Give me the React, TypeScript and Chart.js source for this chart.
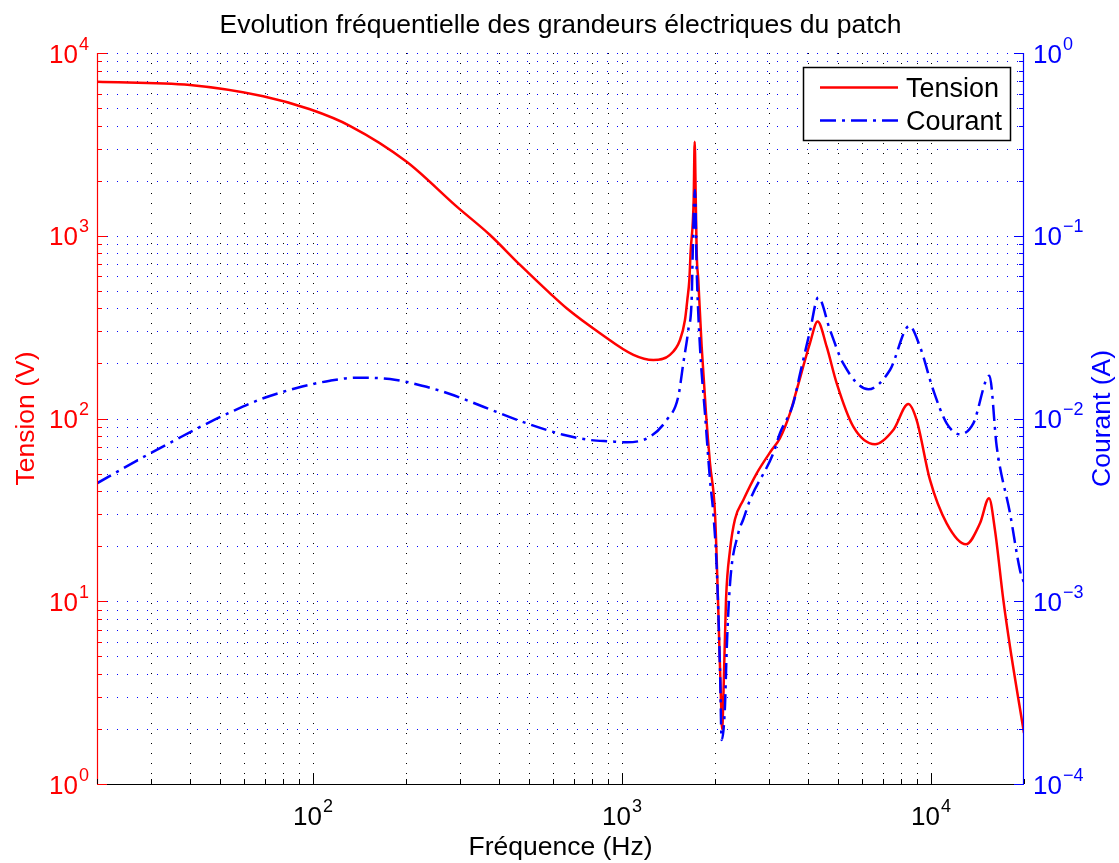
import { useEffect, useRef } from 'react';
import { Chart, registerables } from 'chart.js';

Chart.register(...registerables);

const W = 1119;
const H = 863;
const FONT = '"Liberation Sans", Arial, Helvetica, sans-serif';

// ---- Data ----
const freqTension = [
  20, 40, 69, 97.8, 132, 201, 292, 374, 468, 585, 662, 849,
  1089, 1263, 1430, 1541, 1599, 1627, 1652, 1667, 1706, 1719, 1733, 1745, 1766, 1811, 1870,
  1927, 2000, 2045, 2091, 2110, 2128, 2171, 2237, 2321, 2470, 2729, 3051, 3245, 3498, 3675,
  4057, 4297, 4597, 4951, 5605, 6590, 7551, 8446, 8987, 9926, 11240, 12980, 14410, 15410,
  16110, 17140, 18020, 20000,
];
const tension = [
  6958, 6683, 5800, 4920, 3985, 2541, 1443, 1010, 692, 484, 401, 293,
  223, 209, 223, 269, 346, 445, 573, 805, 1570, 3270, 1570, 805, 573, 247, 107,
  56.9, 30.3, 10.2, 2.9, 2.0, 2.9, 10.2, 19.1, 28.1, 35.8, 50.1, 67.2, 78, 107, 143,
  258, 339, 247, 156, 90.2, 72.3, 86.5, 120, 98, 46.1, 26.7, 20.5, 26.7, 36.6,
  24.5, 10.2, 5.64, 1.9,
];

const freqCourant = [
  20, 27.5, 35.7, 44.2, 55.2, 69, 88.6, 113.5, 138.5, 177.5, 227.5, 277.6, 355.8, 467.7, 645.7,
  787.6, 914.5, 1036, 1232, 1395, 1521, 1579, 1639, 1682, 1694, 1722, 1745, 1788, 1856, 1927,
  1975, 2025, 2075, 2102, 2154, 2182, 2237, 2378, 2470, 2596, 3088, 3245, 3585, 3767, 4057,
  4318, 4712, 5200, 6266, 7367, 8511, 9214, 10170, 11240, 12410, 13710, 15460, 16320, 18020,
  19410, 20000,
];
const courant = [
  4.42e-3, 6.0e-3, 7.6e-3, 9.18e-3, 0.01099, 0.0129, 0.01469, 0.0161, 0.01672, 0.01645, 0.01506,
  0.01362, 0.0116, 9.69e-3, 8.15e-3, 7.63e-3, 7.5e-3, 7.41e-3, 7.95e-3, 9.81e-3, 0.01316, 0.02005,
  0.0305, 0.0464, 0.0802, 0.178, 0.065, 0.0247, 0.01067, 4.61e-3, 3.03e-3, 1.545e-3, 4.38e-4,
  1.74e-4, 2.65e-4, 5.41e-4, 1.25e-3, 2.35e-3, 2.81e-3, 3.58e-3, 6.45e-3, 8.3e-3, 0.0121, 0.0175,
  0.03, 0.046, 0.0305, 0.02, 0.01445, 0.01843, 0.0321, 0.0247, 0.01432, 9.41e-3, 8.2e-3, 9.41e-3,
  0.01714, 7.01e-3, 3.03e-3, 1.48e-3, 1.26e-3,
];

// ---- Ticks / labels ----
const xMajorTicks = [100, 1000, 10000];
const xMajorExp = ['2', '3', '4'];
const yLeftMajorTicks = [1, 10, 100, 1000, 10000];
const yLeftExp = ['0', '1', '2', '3', '4'];
const yRightMajorTicks = [1e-4, 1e-3, 1e-2, 1e-1, 1];
const yRightExp = ['\u22124', '\u22123', '\u22122', '\u22121', '0'];

const X_MIN = 20;
const X_MAX = 20000;

const TITLE = 'Evolution fréquentielle des grandeurs électriques du patch';
const X_TITLE = 'Fréquence (Hz)';
const Y_TITLE = 'Tension (V)';
const Y1_TITLE = 'Courant (A)';
const LEGEND = ['Tension', 'Courant'];

const RED = '#ff0000';
const BLUE = '#0000ff';
const DASH = [16, 6, 3, 6];
const TXT = 26.5;

function decadeTicks(lo: number, hi: number) {
  const out: { v: number; major: boolean }[] = [];
  for (let e = Math.floor(Math.log10(lo)); e <= Math.ceil(Math.log10(hi)); e++) {
    const b = Math.pow(10, e);
    for (let m = 1; m <= 9; m++) {
      const v = m * b;
      if (v >= lo * 0.9999 && v <= hi * 1.0001) out.push({ v, major: m === 1 });
    }
  }
  return out;
}

function powLabel(ctx: CanvasRenderingContext2D, exp: string, x: number, yBase: number, align: string, color: string) {
  ctx.font = `26px ${FONT}`;
  const w1 = ctx.measureText('10').width;
  ctx.font = `18px ${FONT}`;
  const w2 = ctx.measureText(exp).width;
  const total = w1 + 1 + w2;
  const x0 = align === 'left' ? x : align === 'right' ? x - total : x - total / 2;
  ctx.fillStyle = color;
  ctx.textAlign = 'left';
  ctx.textBaseline = 'alphabetic';
  ctx.font = `26px ${FONT}`;
  ctx.fillText('10', x0, yBase);
  ctx.font = `18px ${FONT}`;
  ctx.fillText(exp, x0 + w1 + 1, yBase - 13);
}

const decorPlugin = {
  id: 'decor',
  beforeDatasetsDraw(chart: any) {
    const { ctx, chartArea: a, scales } = chart;
    ctx.save();
    ctx.lineWidth = 1;
    ctx.setLineDash([1, 9]);
    ctx.strokeStyle = '#000000';
    for (const t of decadeTicks(X_MIN, X_MAX)) {
      const px = Math.round(scales.x.getPixelForValue(t.v)) + 0.5;
      if (px < a.left + 2 || px > a.right - 2) continue;
      ctx.beginPath();
      ctx.moveTo(px, a.bottom);
      ctx.lineTo(px, a.top);
      ctx.stroke();
    }
    ctx.strokeStyle = BLUE;
    for (const t of decadeTicks(1e-4, 1)) {
      const py = Math.round(scales.y1.getPixelForValue(t.v)) + 0.5;
      ctx.beginPath();
      ctx.moveTo(a.left, py);
      ctx.lineTo(a.right, py);
      ctx.stroke();
    }
    ctx.restore();
  },
  afterDatasetsDraw(chart: any) {
    const { ctx, chartArea: a, scales } = chart;
    ctx.save();
    ctx.setLineDash([]);

    // axis lines
    ctx.lineWidth = 1.2;
    ctx.strokeStyle = '#000';
    ctx.beginPath();
    ctx.moveTo(a.left, a.bottom + 0.5);
    ctx.lineTo(a.right, a.bottom + 0.5);
    ctx.stroke();
    ctx.strokeStyle = RED;
    ctx.beginPath();
    ctx.moveTo(a.left + 0.5, a.top);
    ctx.lineTo(a.left + 0.5, a.bottom);
    ctx.stroke();
    ctx.strokeStyle = BLUE;
    ctx.beginPath();
    ctx.moveTo(a.right - 0.5, a.top);
    ctx.lineTo(a.right - 0.5, a.bottom);
    ctx.stroke();

    // tick marks
    ctx.lineWidth = 1;
    ctx.strokeStyle = '#000';
    for (const t of decadeTicks(X_MIN, X_MAX)) {
      const px = Math.round(scales.x.getPixelForValue(t.v)) + 0.5;
      const len = t.major ? 10 : 5;
      ctx.beginPath();
      ctx.moveTo(px, a.bottom);
      ctx.lineTo(px, a.bottom - len);
      ctx.stroke();
    }
    ctx.strokeStyle = RED;
    for (const t of decadeTicks(1, 10000)) {
      const py = Math.round(scales.y.getPixelForValue(t.v)) + 0.5;
      const len = t.major ? 10 : 5;
      ctx.beginPath();
      ctx.moveTo(a.left, py);
      ctx.lineTo(a.left + len, py);
      ctx.stroke();
    }
    ctx.strokeStyle = BLUE;
    for (const t of decadeTicks(1e-4, 1)) {
      const py = Math.round(scales.y1.getPixelForValue(t.v)) + 0.5;
      const len = t.major ? 10 : 5;
      ctx.beginPath();
      ctx.moveTo(a.right, py);
      ctx.lineTo(a.right - len, py);
      ctx.stroke();
    }

    // tick labels
    xMajorTicks.forEach((v, i) => {
      powLabel(ctx, xMajorExp[i], scales.x.getPixelForValue(v), a.bottom + 41, 'center', '#000');
    });
    yLeftMajorTicks.forEach((v, i) => {
      powLabel(ctx, yLeftExp[i], a.left - 8, scales.y.getPixelForValue(v) + 9.5, 'right', RED);
    });
    yRightMajorTicks.forEach((v, i) => {
      powLabel(ctx, yRightExp[i], a.right + 9, scales.y1.getPixelForValue(v) + 9.5, 'left', BLUE);
    });

    // titles
    ctx.font = `${TXT}px ${FONT}`;
    ctx.textAlign = 'center';
    ctx.textBaseline = 'alphabetic';
    ctx.fillStyle = '#000';
    const cx = (a.left + a.right) / 2;
    ctx.fillText(TITLE, cx, 33);
    ctx.fillText(X_TITLE, cx, 855);
    const cy = (a.top + a.bottom) / 2;
    ctx.save();
    ctx.translate(27, cy);
    ctx.rotate(-Math.PI / 2);
    ctx.textBaseline = 'middle';
    ctx.fillStyle = RED;
    ctx.fillText(Y_TITLE, 0, 0);
    ctx.restore();
    ctx.save();
    ctx.translate(1103, cy);
    ctx.rotate(-Math.PI / 2);
    ctx.textBaseline = 'middle';
    ctx.fillStyle = BLUE;
    ctx.fillText(Y1_TITLE, 0, 0);
    ctx.restore();

    // legend
    ctx.fillStyle = '#fff';
    ctx.fillRect(803.5, 67.5, 207, 73);
    ctx.lineWidth = 1.5;
    ctx.strokeStyle = '#000';
    ctx.strokeRect(803.5, 67.5, 207, 73);
    ctx.lineWidth = 2.5;
    ctx.strokeStyle = RED;
    ctx.beginPath();
    ctx.moveTo(820, 87.5);
    ctx.lineTo(898, 87.5);
    ctx.stroke();
    ctx.strokeStyle = BLUE;
    ctx.setLineDash(DASH);
    ctx.beginPath();
    ctx.moveTo(820, 120.5);
    ctx.lineTo(898, 120.5);
    ctx.stroke();
    ctx.setLineDash([]);
    ctx.fillStyle = '#000';
    ctx.textAlign = 'left';
    ctx.textBaseline = 'alphabetic';
    ctx.font = `27px ${FONT}`;
    ctx.fillText(LEGEND[0], 906, 96.5);
    ctx.fillText(LEGEND[1], 906, 130);

    ctx.restore();
  },
};

export default function App() {
  const ref = useRef<HTMLCanvasElement | null>(null);
  useEffect(() => {
    document.body.style.margin = '0';
    const canvas = ref.current;
    if (!canvas) return;
    const chart = new Chart(canvas, {
      type: 'line',
      data: {
        datasets: [
          {
            label: 'Courant',
            data: freqCourant.map((f, i) => ({ x: f, y: courant[i] })),
            yAxisID: 'y1',
            borderColor: BLUE,
            borderWidth: 2.5,
            borderDash: DASH,
            pointRadius: 0,
            cubicInterpolationMode: 'monotone',
            fill: false,
            order: 0,
          },
          {
            label: 'Tension',
            data: freqTension.map((f, i) => ({ x: f, y: tension[i] })),
            yAxisID: 'y',
            borderColor: RED,
            borderWidth: 2.5,
            pointRadius: 0,
            cubicInterpolationMode: 'monotone',
            fill: false,
            order: 1,
          },
        ],
      },
      options: {
        responsive: false,
        animation: false,
        devicePixelRatio: 1,
        layout: { padding: { left: 97, right: 95, top: 53, bottom: 79 } },
        scales: {
          x: { type: 'logarithmic', min: X_MIN, max: X_MAX, display: false },
          y: { type: 'logarithmic', min: 1, max: 10000, display: false },
          y1: { type: 'logarithmic', min: 1e-4, max: 1, display: false, position: 'right' },
        },
        plugins: {
          legend: { display: false },
          title: { display: false },
          tooltip: { enabled: false },
        },
      } as any,
      plugins: [decorPlugin],
    });
    return () => chart.destroy();
  }, []);
  return (
    <div style={{ width: W, height: H, background: '#fff' }}>
      <canvas ref={ref} width={W} height={H} style={{ display: 'block' }} />
    </div>
  );
}
